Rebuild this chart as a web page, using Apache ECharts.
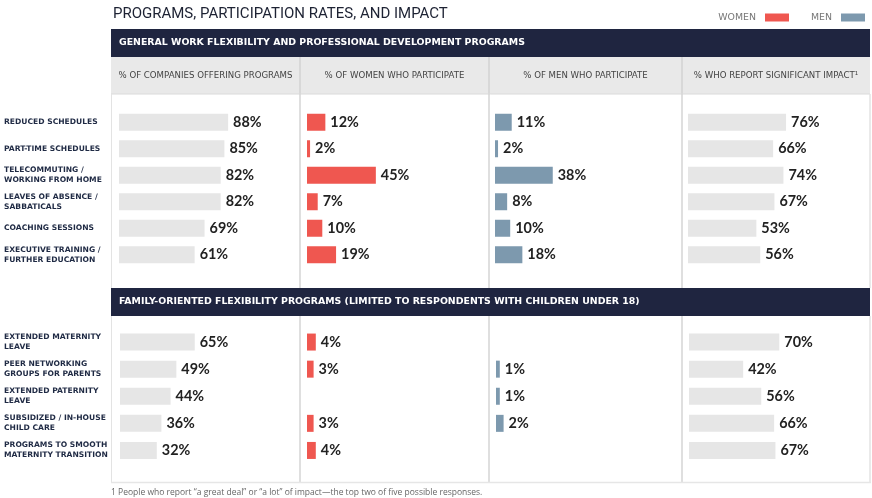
<!DOCTYPE html>
<html>
<head>
<meta charset="utf-8">
<script src="https://cdn.jsdelivr.net/npm/echarts@6/dist/echarts.min.js"></script>
<style>html,body{margin:0;padding:0;background:#fff}#c{width:872px;height:498px}</style>
</head>
<body>
<div id="c"></div>
<script>
// ---- data ----
const generalPrograms = ['REDUCED SCHEDULES', 'PART-TIME SCHEDULES', 'TELECOMMUTING /\nWORKING FROM HOME', 'LEAVES OF ABSENCE /\nSABBATICALS', 'COACHING SESSIONS', 'EXECUTIVE TRAINING /\nFURTHER EDUCATION'];
const generalCompanies = [88, 85, 82, 82, 69, 61];
const generalWomen = [12, 2, 45, 7, 10, 19];
const generalMen = [11, 2, 38, 8, 10, 18];
const generalImpact = [76, 66, 74, 67, 53, 56];

const familyPrograms = ['EXTENDED MATERNITY\nLEAVE', 'PEER NETWORKING\nGROUPS FOR PARENTS', 'EXTENDED PATERNITY\nLEAVE', 'SUBSIDIZED / IN-HOUSE\nCHILD CARE', 'PROGRAMS TO SMOOTH\nMATERNITY TRANSITION'];
const familyCompanies = [65, 49, 44, 36, 32];
const familyWomen = [4, 3, null, 3, 4];
const familyMen = [null, 1, 1, 2, null];
const familyImpact = [70, 42, 56, 66, 67];

const columnHeaders = ['% OF COMPANIES OFFERING PROGRAMS', '% OF WOMEN WHO PARTICIPATE', '% OF MEN WHO PARTICIPATE', '% WHO REPORT SIGNIFICANT IMPACT\u00B9'];
const sectionTitles = ['GENERAL WORK FLEXIBILITY AND PROFESSIONAL DEVELOPMENT PROGRAMS', 'FAMILY-ORIENTED FLEXIBILITY PROGRAMS (LIMITED TO RESPONDENTS WITH CHILDREN UNDER 18)'];
const chartTitle = 'PROGRAMS, PARTICIPATION RATES, AND IMPACT';
const footnote = '1 People who report \u201Ca great deal\u201D or \u201Ca lot\u201D of impact\u2014the top two of five possible responses.';

// ---- style ----
const NAVY = '#1f2540';
const GRAY_BAR = '#e6e6e6';
const RED = '#ef5750';
const BLUE = '#7d99ae';
const LINE = '#d4d4d4';

const colX = [111, 300, 489, 682, 870];
const GW = 160;
// [left, px per percent]
const sec1 = {top: 109, height: 159, cols: [[119, 1.24], [307, 1.53], [495, 1.52], [688, 1.29]]};
const sec2 = {top: 328.5, height: 135.5, cols: [[120, 1.15], [307, 2.2], [496, 3.8], [689, 1.29]]};

const grids = [], xAxes = [], yAxes = [], series = [];
function addSection(sec, cats, datasets, names, colors) {
  sec.cols.forEach((c, i) => {
    const idx = grids.length;
    grids.push({left: c[0], top: sec.top, width: GW, height: sec.height});
    xAxes.push({type: 'value', gridIndex: idx, min: 0, max: GW / c[1], show: false});
    yAxes.push({
      type: 'category', gridIndex: idx, data: cats, inverse: true,
      axisLine: {show: false}, axisTick: {show: false}, splitLine: {show: false},
      axisLabel: i === 0 ? {
        show: true, align: 'left', margin: c[0] - 4,
        fontFamily: 'DejaVu Sans', fontWeight: 'bold', fontSize: 7.6, color: '#1f2a44', lineHeight: 10
      } : {show: false}
    });
    series.push({
      type: 'bar', name: names[i], xAxisIndex: idx, yAxisIndex: idx,
      data: datasets[i], barWidth: 17, itemStyle: {color: colors[i]},
      silent: true, animation: false,
      label: {
        show: true, position: 'right', distance: 5, formatter: '{c}%',
        fontFamily: 'Lato', fontWeight: 'bold', fontSize: 14.4, color: '#222'
      }
    });
  });
}
addSection(sec1, generalPrograms, [generalCompanies, generalWomen, generalMen, generalImpact],
  ['Companies', 'WOMEN', 'MEN', 'Impact'], [GRAY_BAR, RED, BLUE, GRAY_BAR]);
addSection(sec2, familyPrograms, [familyCompanies, familyWomen, familyMen, familyImpact],
  ['Companies', 'WOMEN', 'MEN', 'Impact'], [GRAY_BAR, RED, BLUE, GRAY_BAR]);

// ---- table graphics ----
const g = [];
const Z = -10;
function rect(x, y, w, h, fill) { g.push({type: 'rect', z: Z, shape: {x, y, width: w, height: h}, style: {fill}}); }
function vline(x, y1, y2, color, w) { g.push({type: 'line', z: Z + 1, shape: {x1: x, y1, x2: x, y2}, style: {stroke: color, lineWidth: w || 1.5}}); }
function hline(y, x1, x2, color, w) { g.push({type: 'line', z: Z + 1, shape: {x1, y1: y, x2, y2: y}, style: {stroke: color, lineWidth: w || 1.5}}); }

rect(111, 29, 759, 28, NAVY);
rect(111, 57, 759, 37, '#e9e9e9');
rect(111, 288, 759, 28, NAVY);
// header separators
[1, 2, 3].forEach(i => vline(colX[i], 57, 94, '#d2d2d2', 1.5));
hline(94, 111, 870, '#dadada', 1);
// body borders
[[94, 288], [316, 482]].forEach(([a, b]) => {
  vline(111.5, a, b, '#e3e3e3', 1);
  vline(870, a, b, '#e3e3e3', 1.5);
  [1, 2, 3].forEach(i => vline(colX[i], a, b, LINE, 1.5));
});
hline(482.5, 111, 871, '#e6e6e6', 1.5);

// texts
columnHeaders.forEach((t, i) => {
  g.push({type: 'text', z: 5, style: {
    text: t, x: (colX[i] + colX[i + 1]) / 2, y: 75.5, align: 'center', verticalAlign: 'middle',
    fontFamily: 'DejaVu Sans', fontSize: 8.6, fill: '#444'
  }});
});
[[sectionTitles[0], 43], [sectionTitles[1], 302]].forEach(([t, y]) => {
  g.push({type: 'text', z: 5, style: {
    text: t, x: 119, y, verticalAlign: 'middle',
    fontFamily: 'DejaVu Sans', fontWeight: 'bold', fontSize: 9.4, fill: '#ffffff'
  }});
});
g.push({type: 'text', z: 5, style: {
  text: footnote, x: 111, y: 493, verticalAlign: 'middle',
  fontFamily: 'Open Sans', fontSize: 8.5, fill: '#666'
}});

const chart = echarts.init(document.getElementById('c'), null, {renderer: 'canvas'});
chart.setOption({
  animation: false,
  backgroundColor: '#ffffff',
  title: {
    text: chartTitle, left: 108, top: 2,
    textStyle: {fontFamily: 'Roboto', fontWeight: 'normal', fontSize: 15, color: '#1d2233'}
  },
  legend: {
    data: ['WOMEN', 'MEN'], right: 2, top: 8, align: 'right', icon: 'rect',
    itemWidth: 24, itemHeight: 8, itemGap: 22, selectedMode: false,
    textStyle: {fontFamily: 'DejaVu Sans', fontSize: 9.4, color: '#777', padding: [0, 4, 0, 0]}
  },
  grid: grids, xAxis: xAxes, yAxis: yAxes, series,
  graphic: {elements: g}
});
</script>
</body>
</html>
